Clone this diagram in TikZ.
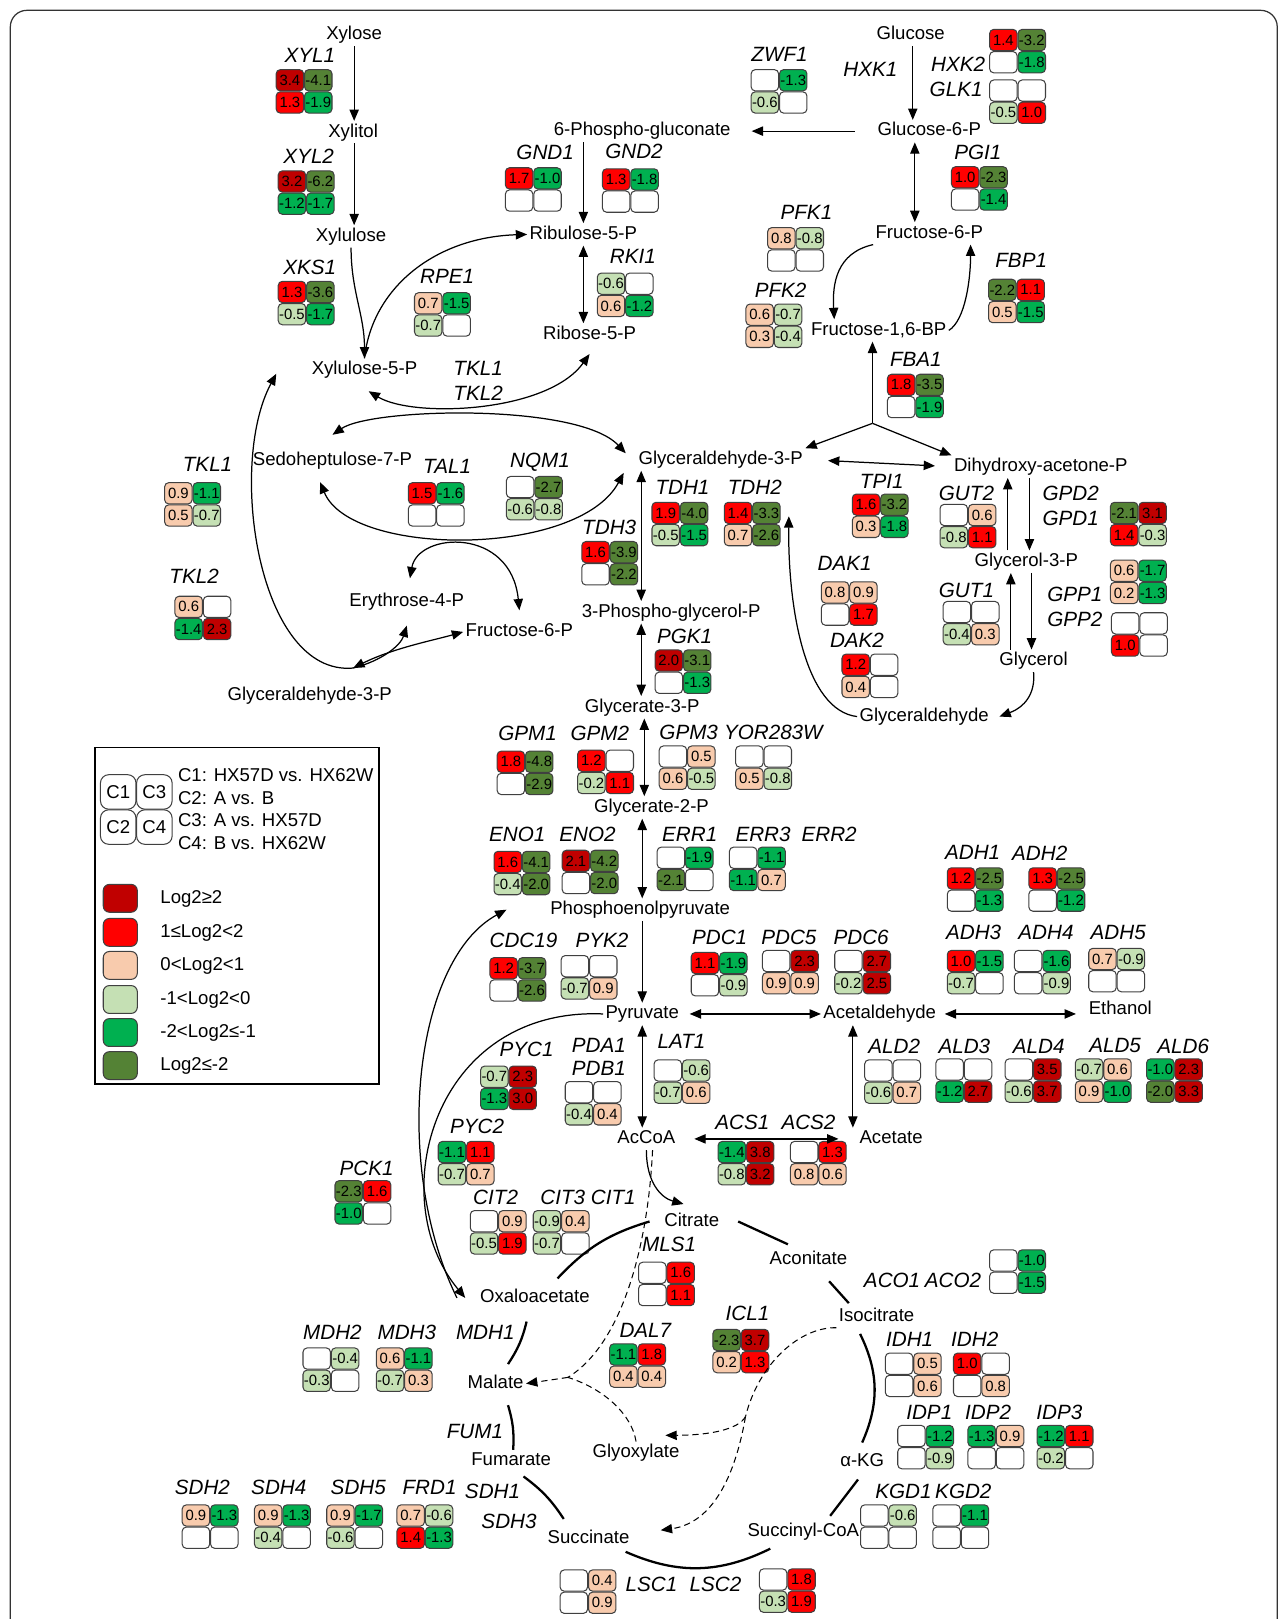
\documentclass[tikz,border=0pt]{standalone}
\usepackage{fontspec}
\setmainfont{Liberation Sans}
\usepackage{tikz}
\usetikzlibrary{arrows.meta}
\definecolor{lv1}{HTML}{C00000}
\definecolor{lv2}{HTML}{FF0000}
\definecolor{lv3}{HTML}{F8CBAD}
\definecolor{lv4}{HTML}{C5E0B4}
\definecolor{lv5}{HTML}{00B050}
\definecolor{lv6}{HTML}{548235}
\definecolor{edge}{HTML}{404040}

\newcommand{\metfont}{\fontsize{9}{10}\selectfont}
\newcommand{\genefont}{\fontsize{10}{11}\selectfont\itshape}
\newcommand{\cellfont}{\fontsize{7.2}{8}\selectfont}

% one cell of a fold-change grid, coloured from its value
\newcommand{\hmcell}[3]{%
  \def\hmval{#3}%
  \ifx\hmval\empty
    \def\hmfill{white}%
  \else
    \pgfmathtruncatemacro{\hmlvl}{(#3>=2)?1:((#3>=1)?2:((#3>0)?3:((#3>-1)?4:((#3>-2)?5:6))))}%
    \edef\hmfill{lv\hmlvl}%
  \fi
  \node[cell, fill=\hmfill] (#1) at #2 {#3};}

% 2x2 grid: name, top-left corner, C1, C3, C2, C4
\newcommand{\hmgrid}[6]{%
  \begin{scope}[shift={#2}]
    \hmcell{#1-c1}{(13.75,10.75)}{#3}
    \hmcell{#1-c3}{(41.25,10.75)}{#4}
    \hmcell{#1-c2}{(13.75,32.25)}{#5}
    \hmcell{#1-c4}{(41.25,32.25)}{#6}
  \end{scope}}

\begin{document}
\begin{tikzpicture}[
    x=0.5pt, y=-0.5pt,
    met/.style={font=\metfont, inner sep=1pt, text height=6.6pt, text depth=1.9pt},
    gene/.style={font=\genefont, inner sep=0pt},
    cell/.style={draw=edge, line width=0.5pt, rounded corners=2pt, minimum width=13.3pt, minimum height=10.3pt, inner sep=0pt, font=\cellfont},
    legcell/.style={draw=edge, line width=0.5pt, rounded corners=4pt, minimum width=17.2pt, minimum height=16.7pt, inner sep=0pt, font=\metfont},
    swatch/.style={draw=edge, line width=0.5pt, rounded corners=3pt, minimum width=16.5pt, minimum height=13.5pt, inner sep=0pt},
    arr/.style={-{Triangle[length=5.5pt,width=4.5pt]}, line width=0.6pt},
    darr/.style={{Triangle[length=5.5pt,width=4.5pt]}-{Triangle[length=5.5pt,width=4.5pt]}, line width=0.6pt},
    dsh/.style={dash pattern=on 3pt off 2pt, line width=0.5pt},
    dsharr/.style={dsh, -{Triangle[length=5.5pt,width=4.5pt]}},
    cyc/.style={line width=1.1pt}
]
    \useasboundingbox (0,0) rectangle (1245,1568);
    \draw[rounded corners=8pt, line width=0.6pt, black!80] (10,1600) -- (10,10) -- (1237,10) -- (1237,1600);

    % Metabolites
    \node[met] (xylose) at (343,34) {Xylose};
    \node[met] (xylitol) at (342,128) {Xylitol};
    \node[met] (xylulose) at (340,229) {Xylulose};
    \node[met] (xu5p) at (353,358) {Xylulose-5-P};
    \node[met] (pgluc) at (622,127) {6-Phospho-gluconate};
    \node[met] (glc) at (882,34) {Glucose};
    \node[met] (glc6p) at (900,127) {Glucose-6-P};
    \node[met] (ru5p) at (565,227) {Ribulose-5-P};
    \node[met] (r5p) at (571,324) {Ribose-5-P};
    \node[met] (f6p) at (900,226) {Fructose-6-P};
    \node[met] (f16bp) at (851,320) {Fructose-1,6-BP};
    \node[met] (s7p) at (322,446) {Sedoheptulose-7-P};
    \node[met] (g3p) at (698,445) {Glyceraldehyde-3-P};
    \node[met] (dhap) at (1008,452) {Dihydroxy-acetone-P};
    \node[met] (e4p) at (394,583) {Erythrose-4-P};
    \node[met] (f6pl) at (503,612) {Fructose-6-P};
    \node[met] (g3pl) at (300,674) {Glyceraldehyde-3-P};
    \node[met] (pgp3) at (650,593) {3-Phospho-glycerol-P};
    \node[met] (gly3p) at (994,544) {Glycerol-3-P};
    \node[met] (glycerol) at (1001,640) {Glycerol};
    \node[met] (glyald) at (895,694) {Glyceraldehyde};
    \node[met] (g3pa) at (622,685) {Glycerate-3-P};
    \node[met] (g2pa) at (631,782) {Glycerate-2-P};
    \node[met] (pep) at (620,881) {Phosphoenolpyruvate};
    \node[met] (pyr) at (622,982) {Pyruvate};
    \node[met] (acald) at (852,982) {Acetaldehyde};
    \node[met] (etoh) at (1085,978) {Ethanol};
    \node[met] (accoa) at (626,1103) {AcCoA};
    \node[met] (acetate) at (863,1103) {Acetate};
    \node[met] (citrate) at (670,1183) {Citrate};
    \node[met] (aconit) at (783,1220) {Aconitate};
    \node[met] (isocit) at (849,1275) {Isocitrate};
    \node[met] (oaa) at (518,1257) {Oxaloacetate};
    \node[met] (malate) at (480,1340) {Malate};
    \node[met] (glyox) at (616,1407) {Glyoxylate};
    \node[met] (fumarate) at (495,1415) {Fumarate};
    \node[met] (akg) at (835,1416) {α-KG};
    \node[met] (succoa) at (778,1483) {Succinyl-CoA};
    \node[met] (succ) at (570,1490) {Succinate};

    % Enzymes
    \node[gene] (g-xyl1) at (300,54) {XYL1};
    \node[gene] (g-xyl2) at (299,151) {XYL2};
    \node[gene] (g-xks1) at (300,259) {XKS1};
    \node[gene] (g-rpe1) at (433,268) {RPE1};
    \node[gene] (g-gnd1) at (528,148) {GND1};
    \node[gene] (g-gnd2) at (614,147) {GND2};
    \node[gene] (g-zwf1) at (755,53) {ZWF1};
    \node[gene] (g-hxk1) at (843,67) {HXK1};
    \node[gene] (g-hxk2) at (928,62) {HXK2};
    \node[gene] (g-glk1) at (926,87) {GLK1};
    \node[gene] (g-pgi1) at (947,148) {PGI1};
    \node[gene] (g-pfk1) at (781,206) {PFK1};
    \node[gene] (g-pfk2) at (756,281) {PFK2};
    \node[gene] (g-fbp1) at (989,252) {FBP1};
    \node[gene] (g-rki1) at (613,248) {RKI1};
    \node[gene] (g-fba1) at (887,348) {FBA1};
    \node[gene] (g-tkl1m) at (463,357) {TKL1};
    \node[gene] (g-tkl2m) at (463,381) {TKL2};
    \node[gene] (g-tkl1) at (201,450) {TKL1};
    \node[gene] (g-tal1) at (433,452) {TAL1};
    \node[gene] (g-nqm1) at (523,448) {NQM1};
    \node[gene] (g-tkl2) at (188,558) {TKL2};
    \node[gene] (g-tdh1) at (661,472) {TDH1};
    \node[gene] (g-tdh2) at (731,472) {TDH2};
    \node[gene] (g-tdh3) at (590,511) {TDH3};
    \node[gene] (g-tpi1) at (854,466) {TPI1};
    \node[gene] (g-gut2) at (936,478) {GUT2};
    \node[gene] (g-gpd2) at (1037,478) {GPD2};
    \node[gene] (g-gpd1) at (1037,502) {GPD1};
    \node[gene] (g-gpp1) at (1041,576) {GPP1};
    \node[gene] (g-gpp2) at (1041,600) {GPP2};
    \node[gene] (g-gut1) at (936,572) {GUT1};
    \node[gene] (g-dak1) at (818,546) {DAK1};
    \node[gene] (g-dak2) at (830,620) {DAK2};
    \node[gene] (g-pgk1) at (663,616) {PGK1};
    \node[gene] (g-gpm1) at (511,710) {GPM1};
    \node[gene] (g-gpm2) at (581,710) {GPM2};
    \node[gene] (g-gpm3) at (667,709) {GPM3};
    \node[gene] (g-yor) at (749,709) {YOR283W};
    \node[gene] (g-eno1) at (501,808) {ENO1};
    \node[gene] (g-eno2) at (569,808) {ENO2};
    \node[gene] (g-err1) at (668,808) {ERR1};
    \node[gene] (g-err3) at (739,808) {ERR3};
    \node[gene] (g-err2) at (803,808) {ERR2};
    \node[gene] (g-cdc19) at (507,911) {CDC19};
    \node[gene] (g-pyk2) at (583,911) {PYK2};
    \node[gene] (g-pdc1) at (697,908) {PDC1};
    \node[gene] (g-pdc5) at (764,908) {PDC5};
    \node[gene] (g-pdc6) at (834,908) {PDC6};
    \node[gene] (g-adh1) at (942,826) {ADH1};
    \node[gene] (g-adh2) at (1007,826) {ADH2};
    \node[gene] (g-adh3) at (943,903) {ADH3};
    \node[gene] (g-adh4) at (1013,903) {ADH4};
    \node[gene] (g-adh5) at (1083,903) {ADH5};
    \node[gene] (g-ald2) at (866,1013) {ALD2};
    \node[gene] (g-ald3) at (934,1013) {ALD3};
    \node[gene] (g-ald4) at (1006,1013) {ALD4};
    \node[gene] (g-ald5) at (1080,1013) {ALD5};
    \node[gene] (g-ald6) at (1146,1013) {ALD6};
    \node[gene] (g-pyc1) at (510,1016) {PYC1};
    \node[gene] (g-pda1) at (580,1012) {PDA1};
    \node[gene] (g-pdb1) at (580,1035) {PDB1};
    \node[gene] (g-lat1) at (660,1009) {LAT1};
    \node[gene] (g-acs1) at (719,1087) {ACS1};
    \node[gene] (g-acs2) at (783,1087) {ACS2};
    \node[gene] (g-pyc2) at (462,1091) {PYC2};
    \node[gene] (g-pck1) at (355,1132) {PCK1};
    \node[gene] (g-cit2) at (480,1160) {CIT2};
    \node[gene] (g-cit3) at (545,1160) {CIT3};
    \node[gene] (g-cit1) at (594,1160) {CIT1};
    \node[gene] (g-mls1) at (648,1205) {MLS1};
    \node[gene] (g-aco1) at (864,1240) {ACO1};
    \node[gene] (g-aco2) at (923,1240) {ACO2};
    \node[gene] (g-icl1) at (724,1272) {ICL1};
    \node[gene] (g-dal7) at (625,1288) {DAL7};
    \node[gene] (g-mdh2) at (322,1290) {MDH2};
    \node[gene] (g-mdh3) at (394,1290) {MDH3};
    \node[gene] (g-mdh1) at (470,1290) {MDH1};
    \node[gene] (g-fum1) at (460,1386) {FUM1};
    \node[gene] (g-sdh2) at (196,1441) {SDH2};
    \node[gene] (g-sdh4) at (270,1441) {SDH4};
    \node[gene] (g-sdh5) at (347,1441) {SDH5};
    \node[gene] (g-frd1) at (416,1441) {FRD1};
    \node[gene] (g-sdh1) at (477,1444) {SDH1};
    \node[gene] (g-sdh3) at (493,1473) {SDH3};
    \node[gene] (g-idh1) at (881,1297) {IDH1};
    \node[gene] (g-idh2) at (944,1297) {IDH2};
    \node[gene] (g-idp1) at (900,1368) {IDP1};
    \node[gene] (g-idp2) at (957,1368) {IDP2};
    \node[gene] (g-idp3) at (1026,1368) {IDP3};
    \node[gene] (g-kgd1) at (875,1444) {KGD1};
    \node[gene] (g-kgd2) at (933,1444) {KGD2};
    \node[gene] (g-lsc1) at (631,1534) {LSC1};
    \node[gene] (g-lsc2) at (693,1534) {LSC2};

    % Expression grids (C1 C3 / C2 C4)
    \hmgrid{xyl1}{(267,67)}{3.4}{-4.1}{1.3}{-1.9}
    \hmgrid{xyl2}{(269,165)}{3.2}{-6.2}{-1.2}{-1.7}
    \hmgrid{xks1}{(269,272)}{1.3}{-3.6}{-0.5}{-1.7}
    \hmgrid{rpe1}{(401,283)}{0.7}{-1.5}{-0.7}{}
    \hmgrid{gnd1}{(489,162)}{1.7}{-1.0}{}{}
    \hmgrid{gnd2}{(583,163)}{1.3}{-1.8}{}{}
    \hmgrid{rki1}{(578,264)}{-0.6}{}{0.6}{-1.2}
    \hmgrid{zwf1}{(727,67)}{}{-1.3}{-0.6}{}
    \hmgrid{hxk2}{(958,28)}{1.4}{-3.2}{}{-1.8}
    \hmgrid{glk1}{(958,77)}{}{}{-0.5}{1.0}
    \hmgrid{pgi1}{(921,161)}{1.0}{-2.3}{}{-1.4}
    \hmgrid{pfk1}{(743,220)}{0.8}{-0.8}{}{}
    \hmgrid{pfk2}{(722,294)}{0.6}{-0.7}{0.3}{-0.4}
    \hmgrid{fbp1}{(957,270)}{-2.2}{1.1}{0.5}{-1.5}
    \hmgrid{fba1}{(859,362)}{1.8}{-3.5}{}{-1.9}
    \hmgrid{tkl1}{(159,467)}{0.9}{-1.1}{0.5}{-0.7}
    \hmgrid{tkl2}{(169,577)}{0.6}{}{-1.4}{2.3}
    \hmgrid{tal1}{(395,467)}{1.5}{-1.6}{}{}
    \hmgrid{nqm1}{(490,461)}{}{-2.7}{-0.6}{-0.8}
    \hmgrid{tdh3}{(563,524)}{1.6}{-3.9}{}{-2.2}
    \hmgrid{tdh1}{(631,486)}{1.9}{-4.0}{-0.5}{-1.5}
    \hmgrid{tdh2}{(701,486)}{1.4}{-3.3}{0.7}{-2.6}
    \hmgrid{tpi1}{(825,478)}{1.6}{-3.2}{0.3}{-1.8}
    \hmgrid{gut2}{(910,488)}{}{0.6}{-0.8}{1.1}
    \hmgrid{gpd}{(1075,486)}{-2.1}{3.1}{1.4}{-0.3}
    \hmgrid{gpp1}{(1075,542)}{0.6}{-1.7}{0.2}{-1.3}
    \hmgrid{gpp2}{(1076,593)}{}{}{1.0}{}
    \hmgrid{gut1}{(913,582)}{}{}{-0.4}{0.3}
    \hmgrid{dak1}{(795,563)}{0.8}{0.9}{}{1.7}
    \hmgrid{dak2}{(815,633)}{1.2}{}{0.4}{}
    \hmgrid{pgk1}{(634,629)}{2.0}{-3.1}{}{-1.3}
    \hmgrid{gpm1}{(481,727)}{1.8}{-4.8}{}{-2.9}
    \hmgrid{gpm2}{(559,726)}{1.2}{}{-0.2}{1.1}
    \hmgrid{gpm3}{(638,722)}{}{0.5}{0.6}{-0.5}
    \hmgrid{yor}{(712,722)}{}{}{0.5}{-0.8}
    \hmgrid{eno1}{(478,824)}{1.6}{-4.1}{-0.4}{-2.0}
    \hmgrid{eno2}{(544,823)}{2.1}{-4.2}{}{-2.0}
    \hmgrid{err1}{(636,820)}{}{-1.9}{-2.1}{}
    \hmgrid{err3}{(706,820)}{}{-1.1}{-1.1}{0.7}
    \hmgrid{cdc19}{(474,927)}{1.2}{-3.7}{}{-2.6}
    \hmgrid{pyk2}{(543,925)}{}{}{-0.7}{0.9}
    \hmgrid{pdc1}{(669,922)}{1.1}{-1.9}{}{-0.9}
    \hmgrid{pdc5}{(738,920)}{}{2.3}{0.9}{0.9}
    \hmgrid{pdc6}{(808,920)}{}{2.7}{-0.2}{2.5}
    \hmgrid{adh1}{(917,840)}{1.2}{-2.5}{}{-1.3}
    \hmgrid{adh2}{(996,840)}{1.3}{-2.5}{}{-1.2}
    \hmgrid{adh3}{(917,920)}{1.0}{-1.5}{-0.7}{}
    \hmgrid{adh4}{(982,920)}{}{-1.6}{}{-0.9}
    \hmgrid{adh5}{(1054,918)}{0.7}{-0.9}{}{}
    \hmgrid{ald2}{(837,1026)}{}{}{-0.6}{0.7}
    \hmgrid{ald3}{(906,1025)}{}{}{-1.2}{2.7}
    \hmgrid{ald4}{(973,1025)}{}{3.5}{-0.6}{3.7}
    \hmgrid{ald5}{(1041,1025)}{-0.7}{0.6}{0.9}{-1.0}
    \hmgrid{ald6}{(1110,1025)}{-1.0}{2.3}{-2.0}{3.3}
    \hmgrid{pyc1}{(465,1032)}{-0.7}{2.3}{-1.3}{3.0}
    \hmgrid{pda}{(547,1047)}{}{}{-0.4}{0.4}
    \hmgrid{lat1}{(633,1026)}{}{-0.6}{-0.7}{0.6}
    \hmgrid{acs1}{(695,1105)}{-1.4}{3.8}{-0.8}{3.2}
    \hmgrid{acs2}{(765,1105)}{}{1.3}{0.8}{0.6}
    \hmgrid{pyc2}{(424,1105)}{-1.1}{1.1}{-0.7}{0.7}
    \hmgrid{pck1}{(324,1143)}{-2.3}{1.6}{-1.0}{}
    \hmgrid{cit2}{(455,1172)}{}{0.9}{-0.5}{1.9}
    \hmgrid{cit3}{(516,1172)}{-0.9}{0.4}{-0.7}{}
    \hmgrid{mls1}{(618,1222)}{}{1.6}{}{1.1}
    \hmgrid{aco}{(958,1210)}{}{-1.0}{}{-1.5}
    \hmgrid{icl1}{(690,1287)}{-2.3}{3.7}{0.2}{1.3}
    \hmgrid{dal7}{(590,1301)}{-1.1}{1.8}{0.4}{0.4}
    \hmgrid{mdh2}{(293,1305)}{}{-0.4}{-0.3}{}
    \hmgrid{mdh3}{(364,1305)}{0.6}{-1.1}{-0.7}{0.3}
    \hmgrid{sdh2}{(176,1457)}{0.9}{-1.3}{}{}
    \hmgrid{sdh4}{(246,1457)}{0.9}{-1.3}{-0.4}{}
    \hmgrid{sdh5}{(316,1457)}{0.9}{-1.7}{-0.6}{}
    \hmgrid{frd1}{(384,1457)}{0.7}{-0.6}{1.4}{-1.3}
    \hmgrid{idh1}{(857,1310)}{}{0.5}{}{0.6}
    \hmgrid{idh2}{(923,1310)}{1.0}{}{}{0.8}
    \hmgrid{idp1}{(869,1380)}{}{-1.2}{}{-0.9}
    \hmgrid{idp2}{(937,1380)}{-1.3}{0.9}{}{}
    \hmgrid{idp3}{(1004,1380)}{-1.2}{1.1}{-0.2}{}
    \hmgrid{kgd1}{(833,1457)}{}{-0.6}{}{}
    \hmgrid{kgd2}{(903,1457)}{}{-1.1}{}{}
    \hmgrid{lsc1}{(542,1520)}{}{0.4}{}{0.9}
    \hmgrid{lsc2}{(735,1519)}{}{1.8}{-0.3}{1.9}

    % Junctions
    \coordinate (fbaj) at (845,410);
    \coordinate (dakend) at (764,500);
    \coordinate (tklj) at (342,647);
    \coordinate (mlsj) at (550,1334);
    \coordinate (iclj) at (722,1372);

    % Arrows: xylose and pentose phosphate
    \draw[arr] (343,0 |- xylose.south) -- (343,0 |- xylitol.north);
    \draw[arr] (343,0 |- xylitol.south) -- (343,0 |- xylulose.north);
    \draw[arr] (xylulose.south) to[out=-90,in=90] (xu5p.north);
    \draw[arr] (xu5p.north) .. controls (360,280) and (420,230) .. (ru5p.west);
    \draw[arr] (884,0 |- glc.south) -- (884,0 |- glc6p.north);
    \draw[arr] ([xshift=-10pt]glc6p.west) -- ([xshift=9pt]pgluc.east);
    \draw[arr] (565,0 |- pgluc.south) -- (565,0 |- ru5p.north);
    \draw[darr] (565,0 |- ru5p.south) -- (565,0 |- r5p.north);
    \draw[darr] ([shift={(2pt,-5pt)}]xu5p.south) .. controls (400,405) and (530,400) .. ([yshift=-4pt]r5p.south);
    \draw[darr] ([yshift=7pt]s7p.north) .. controls (360,395) and (560,390) .. ([shift={(-5pt,3pt)}]g3p.west);
    \draw[darr] ([shift={(-6pt,-5pt)}]s7p.south) .. controls (340,540) and (560,540) .. ([shift={(-6pt,-1pt)}]g3p.south west);
    \draw[darr] ([shift={(1.5pt,6pt)}]e4p.north) .. controls (405,515) and (495,510) .. ([yshift=5pt]f6pl.north);
    \draw[arr] (tklj) .. controls (250,655) and (220,450) .. ([shift={(-16pt,-2pt)}]xu5p.west);
    \draw[arr] (tklj) .. controls (370,640) and (388,625) .. ([yshift=-6pt]e4p.south);
    \draw[darr] (tklj) .. controls (380,628) and (420,620) .. (f6pl.west);

    % Arrows: glycolysis
    \draw[darr] (886,0 |- glc6p.south) -- (886,0 |- f6p.north);
    \draw[arr] (f6p.south west) .. controls (810,245) and (806,275) .. (808,0 |- f16bp.north);
    \draw[arr] (f16bp.east) .. controls (935,310) and (940,270) .. (940,0 |- f6p.south);
    \draw[arr] (fbaj) -- (845,0 |- f16bp.south);
    \draw[arr] (fbaj) -- (g3p.north east);
    \draw[arr] (fbaj) -- (dhap.north west);
    \draw[darr, shorten <=11pt, shorten >=8pt] (g3p.east) -- (dhap.west);
    \draw[arr] (976,0 |- gly3p.north) -- (976,0 |- dhap.south);
    \draw[arr] (997,0 |- dhap.south) -- (997,0 |- gly3p.north);
    \draw[arr] (979,0 |- glycerol.north) -- (979,0 |- gly3p.south);
    \draw[arr] (999,0 |- gly3p.south) -- (999,0 |- glycerol.north);
    \draw[arr] (glycerol.south) .. controls (1003,672) and (992,685) .. ([xshift=4pt]glyald.east);
    \draw[arr] (glyald.west) .. controls (780,688) and (763,590) .. (dakend);
    \draw[darr] (621,0 |- g3p.south) -- (621,0 |- pgp3.north);
    \draw[darr] (621,0 |- pgp3.south) -- (621,0 |- g3pa.north);
    \draw[darr] (624,0 |- g3pa.south) -- (624,0 |- g2pa.north);
    \draw[darr] (622,0 |- g2pa.south) -- (622,0 |- pep.north);
    \draw[arr] (622,0 |- pep.south) -- (622,0 |- pyr.north);
    \draw[darr, shorten <=4pt] (pyr.east) -- (acald.west);
    \draw[darr, shorten <=3pt, shorten >=5pt] (acald.east) -- (acald.east -| etoh.west);
    \draw[darr] (826,0 |- acald.south) -- (826,0 |- acetate.north);
    \draw[darr] (622,0 |- pyr.south) -- (622,0 |- accoa.north);
    \draw[darr, shorten <=8pt, shorten >=9pt] (accoa.east) -- (acetate.west);
    \draw[arr] (pyr.west) .. controls (420,975) and (370,1160) .. ([xshift=-6pt]oaa.west);
    \draw[arr] ([xshift=-10pt]oaa.west) .. controls (380,1130) and (400,930) .. ([xshift=-20pt]pep.west);

    % TCA cycle and glyoxylate shunt
    \draw[arr] (accoa.south) .. controls (626,1145) and (640,1160) .. ([shift={(-4pt,3pt)}]citrate.north);
    \draw[cyc] ([shift={(11pt,4pt)}]oaa.north) to[bend left=15] ([xshift=-6pt]citrate.west);
    \draw[cyc] ([xshift=8pt]citrate.east) -- ([shift={(10pt,2pt)}]aconit.north west);
    \draw[cyc] ([shift={(10pt,-5pt)}]aconit.south) -- ([shift={(6pt,1pt)}]isocit.north west);
    \draw[cyc] ([shift={(-8pt,-3pt)}]isocit.south) to[bend left=25] ([yshift=4pt]akg.north);
    \draw[cyc] ([shift={(-2pt,-3pt)}]akg.south) -- ([shift={(13pt,2pt)}]succoa.north);
    \draw[cyc] ([shift={(-16pt,-3pt)}]succoa.south) to[bend left=25] ([shift={(-3pt,-1pt)}]succ.south east);
    \draw[cyc] ([shift={(-12pt,4pt)}]succ.north) to[bend right=10] ([shift={(6pt,-2pt)}]fumarate.south);
    \draw[cyc] ([xshift=1pt]fumarate.north) to[bend right=10] ([shift={(6pt,-5pt)}]malate.south);
    \draw[cyc] ([shift={(6pt,4pt)}]malate.north) to[bend right=10] ([shift={(-4pt,-6pt)}]oaa.south);
    \draw[dsh] ([xshift=3pt]accoa.south) .. controls (628,1200) and (605,1300) .. (mlsj);
    \draw[dsh] (glyox.north) .. controls (612,1370) and (585,1345) .. (mlsj);
    \draw[dsharr] (mlsj) -- (malate.east);
    \draw[dsh] (isocit.south west) .. controls (775,1285) and (735,1320) .. (iclj);
    \draw[dsharr] (iclj) .. controls (715,1385) and (685,1390) .. ([shift={(-8pt,3pt)}]glyox.north east);
    \draw[dsharr] (iclj) .. controls (712,1430) and (690,1475) .. ([shift={(14pt,4pt)}]succ.east);

    % Legend
    \node[draw, line width=0.8pt, minimum width=137.5pt, minimum height=163pt, inner sep=0pt] (legbox) at (229.5,887) {};
    \node[legcell] (leg-c1) at (114.5,767) {C1};
    \node[legcell] (leg-c3) at (149.5,767) {C3};
    \node[legcell] (leg-c2) at (114.5,801) {C2};
    \node[legcell] (leg-c4) at (149.5,801) {C4};
    \node[met, anchor=west] (leg-t1) at (170,752) {C1: HX57D vs. HX62W};
    \node[met, anchor=west] (leg-t2) at (170,774) {C2: A vs. B};
    \node[met, anchor=west] (leg-t3) at (170,796) {C3: A vs. HX57D};
    \node[met, anchor=west] (leg-t4) at (170,818) {C4: B vs. HX62W};
    \node[swatch, fill=lv1] (sw1) at (116.5,870) {};
    \node[swatch, fill=lv2] (sw2) at (116.5,903) {};
    \node[swatch, fill=lv3] (sw3) at (116.5,935) {};
    \node[swatch, fill=lv4] (sw4) at (116.5,968) {};
    \node[swatch, fill=lv5] (sw5) at (116.5,1000) {};
    \node[swatch, fill=lv6] (sw6) at (116.5,1032) {};
    \node[met, anchor=west] (sl1) at (153,870) {Log2≥2};
    \node[met, anchor=west] (sl2) at (153,903) {1≤Log2<2};
    \node[met, anchor=west] (sl3) at (153,935) {0<Log2<1};
    \node[met, anchor=west] (sl4) at (153,968) {-1<Log2<0};
    \node[met, anchor=west] (sl5) at (153,1000) {-2<Log2≤-1};
    \node[met, anchor=west] (sl6) at (153,1032) {Log2≤-2};
\end{tikzpicture}
\end{document}
